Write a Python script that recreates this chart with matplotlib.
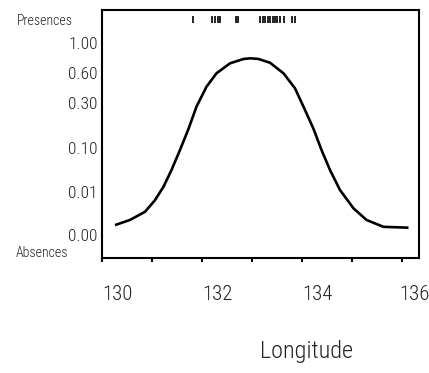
import numpy as np
import matplotlib
matplotlib.use("Agg")
import matplotlib.pyplot as plt

plt.rcParams['font.family'] = ['Roboto Condensed', 'Liberation Sans Narrow',
                               'DejaVu Sans']
plt.rcParams['font.weight'] = 'light'

# fitted probability of presence along longitude
longitude = [129.96, 130.26, 130.56, 130.76, 130.93, 131.09, 131.26, 131.43,
             131.59, 131.79, 131.99, 132.26, 132.53, 132.67, 132.83, 133.06,
             133.33, 133.56, 133.76, 133.93, 134.09, 134.26, 134.46, 134.73,
             134.99, 135.33, 135.83]
prob = [0.0023, 0.0035, 0.0054, 0.0081, 0.0208, 0.055, 0.096, 0.185,
        0.284, 0.463, 0.597, 0.729, 0.787, 0.796, 0.787, 0.737,
        0.597, 0.447, 0.269, 0.185, 0.096, 0.055, 0.014, 0.0062,
        0.0035, 0.0019, 0.0017]

# observed presences (rug along the top)
presences = [131.51, 131.89, 131.95, 132.01, 132.06, 132.37, 132.42,
             132.85, 132.92, 132.96, 133.02, 133.06, 133.12, 133.16,
             133.20, 133.25, 133.33, 133.49, 133.56]

ytick_probs = [0.00, 0.01, 0.10, 0.30, 0.60, 1.00]
ytick_labels = ['0.00', '0.01', '0.10', '0.30', '0.60', '1.00']
xtick_labels = [130, 132, 134, 136]

# vertical scale of the plot: where each probability sits (0 = bottom, 248 = top)
scale_pos = [23, 66, 110, 155, 185, 215]

def to_height(p):
    return np.interp(p, ytick_probs, scale_pos)

fig = plt.figure(figsize=(4.29, 3.73), dpi=100)
ax = fig.add_axes([102 / 429, 115 / 373, 317 / 429, 248 / 373])

ax.plot(longitude, to_height(np.array(prob)), color='black', lw=1.9,
        solid_capstyle='butt', solid_joinstyle='round')
ax.vlines(presences, 235, 242, color='black', lw=1.2)

ax.set_xlim(129.7, 136.04)
ax.set_ylim(0, 248)

ax.set_yticks(to_height(np.array(ytick_probs)))
ax.set_yticklabels(ytick_labels)
ax.tick_params(axis='y', length=0, pad=3, labelsize=12.5, labelcolor='#222222')

# long. labels drawn as text; the last one is nudged so it stays inside the figure
ax.set_xticks(np.arange(129.7, 136.0, 1.0))
ax.set_xticklabels([])
ax.tick_params(axis='x', length=3, width=1.5, direction='out')
for v in xtick_labels:
    dx = -3 if v == xtick_labels[-1] else 0
    ax.annotate(str(v), (v, 0), xycoords=('data', 'axes fraction'),
                xytext=(dx, -37), textcoords='offset pixels', ha='center',
                va='center', fontsize=15, fontweight='light', color='#222222',
                annotation_clip=False)

for s in ax.spines.values():
    s.set_linewidth(1.5)

ax.set_xlabel('Longitude', fontsize=17.5, fontweight='light', color='#222222',
              va='center')
ax.xaxis.set_label_coords(0.644, -0.379)

ax.text(-0.18, 0.956, 'Presences', transform=ax.transAxes, ha='center',
        va='center', fontsize=10, color='#222222')
ax.text(-0.188, 0.02, 'Absences', transform=ax.transAxes, ha='center',
        va='center', fontsize=10, color='#222222')

fig.savefig('out.png', dpi=100)
